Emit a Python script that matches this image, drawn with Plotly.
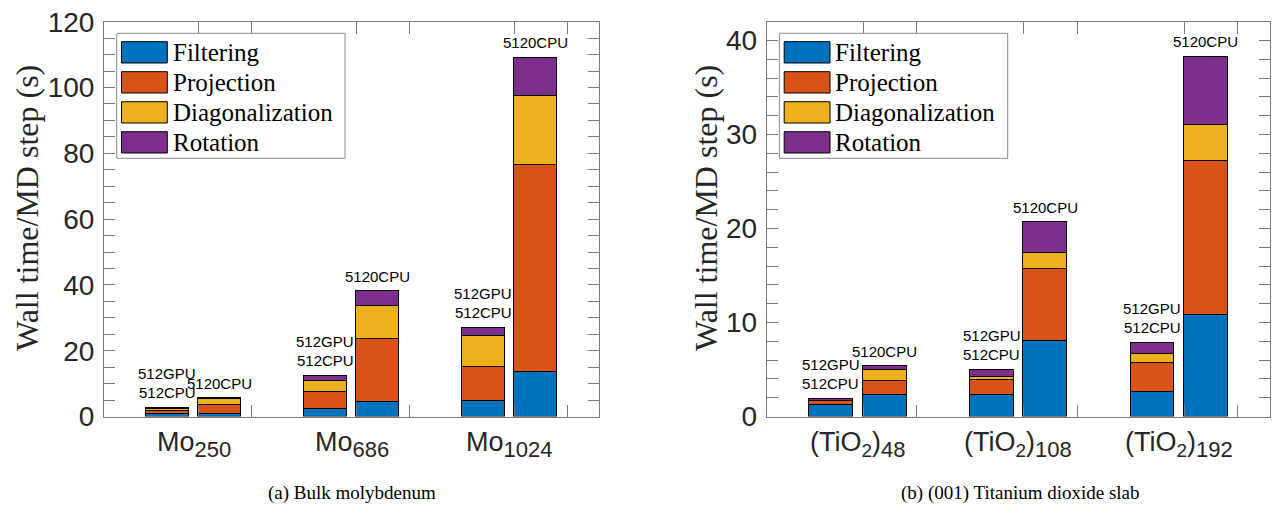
import plotly.graph_objects as go

# ---------------- data ----------------
components = ["Filtering", "Projection", "Diagonalization", "Rotation"]
colors = ["#0072BD", "#D95319", "#EDB120", "#7E2F8E"]

# bar order: [GPU, CPU] for each system
mo_systems = ["Mo", "Mo", "Mo"]
mo_subscripts = ["250", "686", "1024"]
mo_filtering = [0.8, 1.0, 2.5, 4.6, 4.9, 13.6]
mo_projection = [1.0, 2.5, 4.9, 19.2, 10.1, 62.8]
mo_diagonalization = [0.6, 1.9, 3.5, 9.9, 9.5, 21.0]
mo_rotation = [0.3, 0.3, 1.4, 4.4, 2.5, 11.8]

tio_systems = ["(TiO<sub>2</sub>)", "(TiO<sub>2</sub>)", "(TiO<sub>2</sub>)"]
tio_subscripts = ["48", "108", "192"]
tio_filtering = [1.25, 2.32, 2.32, 8.04, 2.61, 10.8]
tio_projection = [0.40, 1.49, 1.57, 7.70, 3.16, 16.4]
tio_diagonalization = [0.05, 1.17, 0.35, 1.64, 0.96, 3.8]
tio_rotation = [0.20, 0.43, 0.71, 3.30, 1.13, 7.3]

bar_positions = [1, 2, 4, 5, 7, 8]
group_centers = [1.5, 4.5, 7.5]
x_ticks = [1.6, 2.6, 4.6, 5.6, 7.6, 8.6]
gpu_labels = ["512GPU", "512CPU"]
cpu_label = "5120CPU"

captions = ["(a) Bulk molybdenum", "(b) (001) Titanium dioxide slab"]
y_title = "Wall time/MD step (s)"

# ---------------- layout helpers ----------------
W, H = 1272, 512
def px(x):
    return x / W
def py(y):
    return 1 - y / H

SANS = "Liberation Sans, Arial, sans-serif"
SERIF = "Liberation Serif, Times New Roman, serif"
TXT = "#262626"
AX = "#7a7a7a"
SUB = "<sub><span style='font-size:22px'>%s</span></sub>"

panels = [
    dict(xa="x", ya="y", left=104, right=599, top=21.7, bottom=416.5, ymax=120, dtick=20, minor=5,
         series=[mo_filtering, mo_projection, mo_diagonalization, mo_rotation],
         systems=mo_systems, subs=mo_subscripts, caption=captions[0], cap_x=352, title_x=27),
    dict(xa="x2", ya="y2", left=766.7, right=1270, top=21.7, bottom=416.5, ymax=42, dtick=10, minor=2,
         series=[tio_filtering, tio_projection, tio_diagonalization, tio_rotation],
         systems=tio_systems, subs=tio_subscripts, caption=captions[1], cap_x=1020, title_x=706),
]

fig = go.Figure()
annotations = []
shapes = []

for k, p in enumerate(panels):
    for name, col, vals in zip(components, colors, p["series"]):
        fig.add_trace(go.Bar(
            x=bar_positions, y=vals, name=name, width=0.82,
            marker=dict(color=col, line=dict(color="black", width=1)),
            xaxis=p["xa"], yaxis=p["ya"], showlegend=False,
            hovertemplate=name + ": %{y}<extra></extra>"))

    totals = [sum(v) for v in zip(*p["series"])]
    xref, yref = p["xa"], p["ya"]
    for g in range(3):
        gx, cx = bar_positions[2 * g], bar_positions[2 * g + 1]
        gt, ct = totals[2 * g], totals[2 * g + 1]
        for lab, shift in zip(gpu_labels, [24, 5]):
            annotations.append(dict(x=gx, y=gt, xref=xref, yref=yref, text=lab,
                                    showarrow=False, xanchor="center", yanchor="bottom",
                                    yshift=shift,
                                    font=dict(family=SANS, size=15, color="black")))
        annotations.append(dict(x=cx, y=ct, xref=xref, yref=yref, text=cpu_label,
                                showarrow=False, xanchor="center", yanchor="bottom", yshift=4,
                                font=dict(family=SANS, size=15, color="black")))
        annotations.append(dict(x=group_centers[g], y=py(p["bottom"]), xref=xref, yref="paper",
                                text=p["systems"][g] + SUB % p["subs"][g],
                                showarrow=False, xanchor="center",
                                yanchor="top", yshift=-8,
                                font=dict(family=SANS, size=27, color=TXT)))

    # y title and caption
    annotations.append(dict(x=px(p["title_x"]), y=py(208), xref="paper", yref="paper",
                            text=y_title, textangle=-90, showarrow=False,
                            xanchor="center", yanchor="middle",
                            font=dict(family=SERIF, size=32, color=TXT)))
    annotations.append(dict(x=px(p["cap_x"]), y=py(493), xref="paper", yref="paper",
                            text=p["caption"], showarrow=False,
                            xanchor="center", yanchor="middle",
                            font=dict(family=SERIF, size=19, color="black")))

    # custom legend
    lx = p["left"] + 12.7
    ly = p["top"] + 11.6
    shapes.append(dict(type="rect", xref="paper", yref="paper",
                       x0=px(lx), x1=px(lx + 228.3), y0=py(ly), y1=py(ly + 125),
                       line=dict(color="#8c8c8c", width=1), fillcolor="white", layer="above"))
    for i, (name, col) in enumerate(zip(components, colors)):
        sy = ly + 8.4 + 30 * i
        shapes.append(dict(type="rect", xref="paper", yref="paper",
                           x0=px(lx + 4.8), x1=px(lx + 50.6), y0=py(sy), y1=py(sy + 21.3),
                           line=dict(color="black", width=1), fillcolor=col, layer="above"))
        annotations.append(dict(x=px(lx + 54), y=py(sy + 10.6), xref="paper", yref="paper",
                                text=name, showarrow=False, xanchor="left", yanchor="middle",
                                font=dict(family=SERIF, size=25, color="black")))

    axis_common = dict(showline=True, linecolor=AX, linewidth=1, mirror="ticks",
                       showgrid=False, zeroline=False, ticks="inside", tickcolor=AX,
                       automargin=False)
    xkey = "xaxis" if k == 0 else "xaxis2"
    ykey = "yaxis" if k == 0 else "yaxis2"
    fig.update_layout(**{
        xkey: dict(domain=[px(p["left"]), px(p["right"])], range=[-0.2, 9.2],
                   tickvals=x_ticks, showticklabels=False, ticklen=12,
                   anchor=p["ya"], **axis_common),
        ykey: dict(domain=[py(p["bottom"]), py(p["top"])], range=[0, p["ymax"]],
                   dtick=p["dtick"], tick0=0, ticklen=11, anchor=p["xa"],
                   ticklabelstandoff=3,
                   tickfont=dict(family=SANS, size=28, color=TXT),
                   minor=dict(dtick=p["minor"], ticks="inside", ticklen=11, tickcolor=AX),
                   **axis_common),
    })

fig.update_layout(
    template="none",
    width=W, height=H, margin=dict(l=0, r=0, t=0, b=0, pad=0, autoexpand=False),
    barmode="stack", bargap=0, showlegend=False,
    plot_bgcolor="white", paper_bgcolor="white",
    annotations=annotations, shapes=shapes,
)

fig.write_html("out.html", config={"displayModeBar": False},
               post_script="document.body.style.margin='0';"
                           "document.body.style.overflow='hidden';")
